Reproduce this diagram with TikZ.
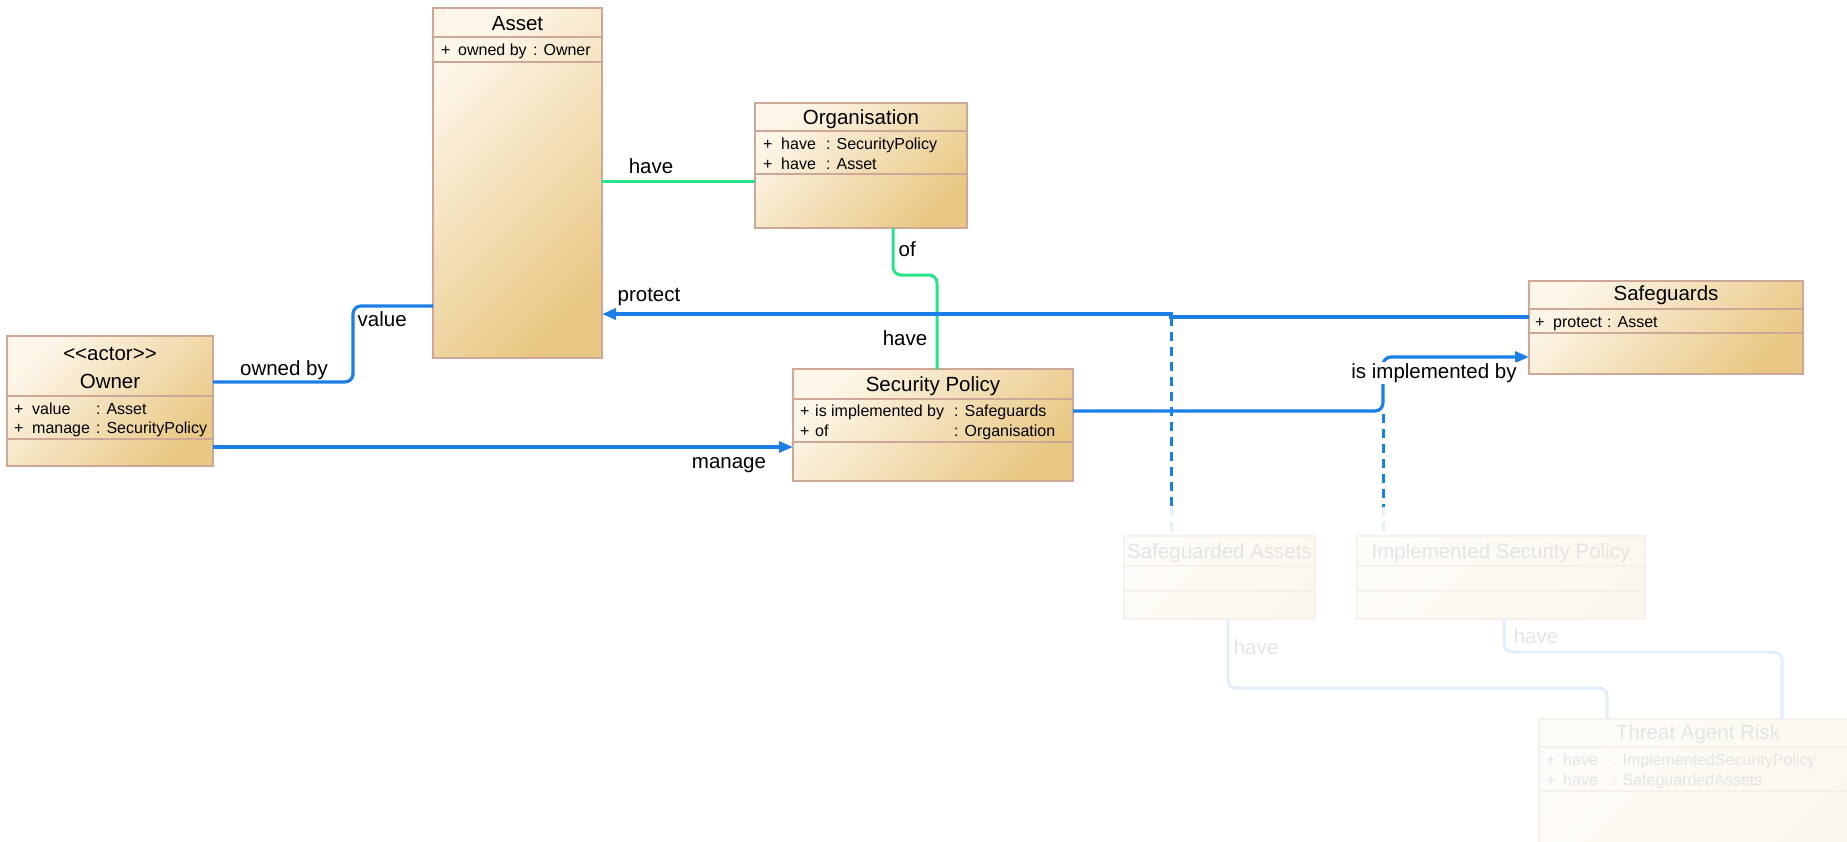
\documentclass[tikz,border=0pt]{standalone}
\usepackage{fontspec}
\setmainfont{Liberation Sans}
\usetikzlibrary{arrows.meta}
\definecolor{cream}{RGB}{253,246,233}
\definecolor{tanc}{RGB}{233,200,132}
\definecolor{bord}{RGB}{205,168,152}
\definecolor{ublue}{RGB}{28,127,232}
\definecolor{ugreen}{RGB}{40,228,135}
\definecolor{fcream}{RGB}{254,252,248}
\definecolor{ftan}{RGB}{252,247,238}
\definecolor{fbord}{RGB}{246,240,236}
\definecolor{ftext}{RGB}{228,228,228}
\definecolor{fblue}{RGB}{226,238,252}
\tikzset{
 cls/.style={draw=bord, line width=1.2pt, top color=cream, bottom color=tanc, shading angle=45, anchor=north west, inner sep=0pt, outer sep=0pt},
 fcls/.style={draw=fbord, line width=1.2pt, top color=fcream, bottom color=ftan, shading angle=45, anchor=north west, inner sep=0pt, outer sep=0pt},
 divider/.style={draw=bord, line width=1.2pt},
 fdivider/.style={draw=fbord, line width=1.2pt},
 title/.style={anchor=base, inner sep=0pt, font=\fontsize{20.5}{24}\selectfont},
 attr/.style={anchor=base west, inner sep=0pt, font=\fontsize{16}{19}\selectfont},
 lbl/.style={anchor=base, inner sep=1.5pt, font=\fontsize{20.5}{24}\selectfont},
 bluel/.style={draw=ublue, line width=3.2pt, rounded corners=8pt},
 greenl/.style={draw=ugreen, line width=3pt, rounded corners=8pt},
 fline/.style={draw=fblue, line width=3pt, rounded corners=8pt},
 tip/.style={-{Triangle[length=14pt,width=11pt]}},
 dashlink/.style={draw=ublue, line width=3pt, dash pattern=on 9pt off 6pt},
 fdashlink/.style={draw=fblue, line width=3pt, dash pattern=on 9pt off 6pt},
}
\begin{document}
\begin{tikzpicture}[x=1pt,y=-1pt]
\useasboundingbox (0,0) rectangle (1847,841);

% ---------- faded classes ----------
\node[fcls, minimum width=191pt, minimum height=83pt] (sa) at (1124,536) {};
\draw[fdivider] (1124,566) -- (1315,566);
\draw[fdivider] (1124,591) -- (1315,591);
\node[title, text=ftext] (saT) at (1219.5,558) {Safeguarded Assets};

\node[fcls, minimum width=288pt, minimum height=83pt] (isp) at (1357,536) {};
\draw[fdivider] (1357,566) -- (1645,566);
\draw[fdivider] (1357,591) -- (1645,591);
\node[title, text=ftext] (ispT) at (1501,558) {Implemented Security Policy};

\node[fcls, minimum width=320pt, minimum height=125pt] (tar) at (1539,719) {};
\draw[fdivider] (1539,747) -- (1859,747);
\draw[fdivider] (1539,791) -- (1859,791);
\node[title, text=ftext] (tarT) at (1698,739) {Threat Agent Risk};
\node[attr, text=ftext] (tarP1) at (1546,765) {+};
\node[attr, text=ftext] (tarN1) at (1563,765) {have};
\node[attr, text=ftext] (tarT1) at (1612,765) {: ImplementedSecurityPolicy};
\node[attr, text=ftext] (tarP2) at (1546,785) {+};
\node[attr, text=ftext] (tarN2) at (1563,785) {have};
\node[attr, text=ftext] (tarT2) at (1612,785) {: SafeguardedAssets};

% ---------- Asset ----------
\node[cls, minimum width=169pt, minimum height=350pt] (asset) at (433,8) {};
\draw[divider] (433,37) -- (602,37);
\draw[divider] (433,62) -- (602,62);
\node[title] (assetT) at (517.5,30) {Asset};
\node[attr] (assetP1) at (441,55) {+};
\node[attr] (assetN1) at (458,55) {owned by};
\node[attr] (assetT1) at (533,55) {: Owner};

% ---------- Organisation ----------
\node[cls, minimum width=212pt, minimum height=125pt] (org) at (755,103) {};
\draw[divider] (755,131) -- (967,131);
\draw[divider] (755,174) -- (967,174);
\node[title] (orgT) at (861,124) {Organisation};
\node[attr] (orgP1) at (763,149) {+};
\node[attr] (orgN1) at (781,149) {have};
\node[attr] (orgT1) at (826,149) {: SecurityPolicy};
\node[attr] (orgP2) at (763,169) {+};
\node[attr] (orgN2) at (781,169) {have};
\node[attr] (orgT2) at (826,169) {: Asset};

% ---------- Owner ----------
\node[cls, minimum width=206pt, minimum height=130pt] (owner) at (7,336) {};
\draw[divider] (7,396) -- (213,396);
\draw[divider] (7,439) -- (213,439);
\node[title] (ownerS) at (110,360) {<\kern0pt<actor>\kern0pt>};
\node[title] (ownerT) at (110,388) {Owner};
\node[attr] (ownerP1) at (14,414) {+};
\node[attr] (ownerN1) at (32,414) {value};
\node[attr] (ownerT1) at (96,414) {: Asset};
\node[attr] (ownerP2) at (14,433) {+};
\node[attr] (ownerN2) at (32,433) {manage};
\node[attr] (ownerT2) at (96,433) {: SecurityPolicy};

% ---------- Security Policy ----------
\node[cls, minimum width=280pt, minimum height=112pt] (sp) at (793,369) {};
\draw[divider] (793,399) -- (1073,399);
\draw[divider] (793,442) -- (1073,442);
\node[title] (spT) at (933,391) {Security Policy};
\node[attr] (spP1) at (800,416) {+};
\node[attr] (spN1) at (815,416) {is implemented by};
\node[attr] (spT1) at (954,416) {: Safeguards};
\node[attr] (spP2) at (800,436) {+};
\node[attr] (spN2) at (815,436) {of};
\node[attr] (spT2) at (954,436) {: Organisation};

% ---------- Safeguards ----------
\node[cls, minimum width=274pt, minimum height=93pt] (safe) at (1529,281) {};
\draw[divider] (1529,309) -- (1803,309);
\draw[divider] (1529,333) -- (1803,333);
\node[title] (safeT) at (1666,300) {Safeguards};
\node[attr] (safeP1) at (1535,327) {+};
\node[attr] (safeN1) at (1553,327) {protect};
\node[attr] (safeT1) at (1607,327) {: Asset};

% ---------- faded connectors ----------
\draw[fline] ([xshift=104pt]sa.south west) -- ++(0,69) -| ([xshift=68pt]tar.north west);
\draw[fline] ([xshift=147pt]isp.south west) -- ++(0,33) -| ([xshift=243pt]tar.north west);
\node[lbl, text=ftext] (lHave3) at (1256,654) {have};
\node[lbl, text=ftext] (lHave4) at (1536,643) {have};

% ---------- green connectors ----------
\draw[greenl] ([yshift=-173pt]asset.north east) coordinate (g1) -- (g1 -| org.west);
\draw[greenl] ([xshift=138pt]org.south west) -- ++(0,47) -| ([xshift=144pt]sp.north west);

% ---------- blue connectors ----------
\draw[bluel] ([yshift=-46pt]owner.north east) -- ++(140,0) |- ([yshift=-298pt]asset.north west);
\draw[bluel, tip] ([yshift=-111pt]owner.north east) coordinate (m1) -- (m1 -| sp.west);
\draw[bluel, tip, sharp corners] ([yshift=-36pt]safe.north west) -- ++(-358,0) coordinate (pstep) -- ++(0,-3) -- ([yshift=-306pt]asset.north east);
\draw[bluel, tip] ([yshift=-42pt]sp.north east) -- ++(310,0) coordinate (icorner) |- ([yshift=-76pt]safe.north west);

% ---------- dashed association-class links ----------
\draw[dashlink] (pstep) -- ++(0,190) coordinate (d1);
\draw[fdashlink] (d1) -- ([xshift=47pt]sa.north west);
\draw[dashlink] ([yshift=-3pt]icorner) -- ++(0,93) coordinate (d2);
\draw[fdashlink] (d2) -- ([xshift=26pt]isp.north west);

% ---------- labels ----------
\node[lbl] (lHave1) at (651,173) {have};
\node[lbl, anchor=base west] (lOf) at (897,256) {of};
\node[lbl] (lHave2) at (905,345) {have};
\node[lbl] (lProtect) at (649,301) {protect};
\node[lbl, anchor=base west] (lValue) at (356,326) {value};
\node[lbl] (lOwned) at (284,375) {owned by};
\node[lbl] (lManage) at (729,468) {manage};
\node[lbl, fill=white] (lImpl) at (1434,378) {is implemented by};
\end{tikzpicture}
\end{document}
